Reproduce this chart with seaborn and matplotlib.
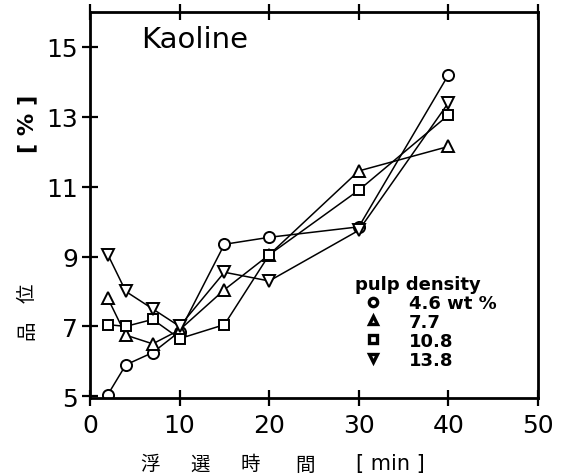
import matplotlib
matplotlib.use("Agg")
import matplotlib.pyplot as plt
import seaborn as sns
import pandas as pd

time_min = [2, 4, 7, 10, 15, 20, 30, 40]
grade_46 = [5.05, 5.9, 6.25, 6.85, 9.35, 9.55, 9.85, 14.2]
grade_77 = [7.8, 6.75, 6.5, 6.9, 8.05, 9.05, 11.45, 12.15]
grade_108 = [7.05, 7.0, 7.2, 6.65, 7.05, 9.05, 10.9, 13.05]
grade_138 = [9.05, 8.0, 7.5, 7.0, 8.55, 8.3, 9.75, 13.4]
series_labels = ["4.6 wt %", "7.7", "10.8", "13.8"]
series_markers = ["o", "^", "s", "v"]
x_ticks = [0, 10, 20, 30, 40, 50]
y_ticks = [5, 7, 9, 11, 13, 15]

sns.set_theme(style="white")
plt.rcParams['font.family'] = ['DejaVu Sans', 'Noto Sans CJK JP']
plt.rcParams['text.color'] = 'black'

fig = plt.figure(figsize=(5.62, 4.77), dpi=100)
ax = fig.add_axes([90/562, 1-399/477, 448/562, 386/477])

all_series = [grade_46, grade_77, grade_108, grade_138]
for vals, lab, mk in zip(all_series, series_labels, series_markers):
    df = pd.DataFrame({"t": time_min, "g": vals})
    sns.lineplot(data=df, x="t", y="g", ax=ax, color="black", linewidth=1.1,
                 marker=mk, markersize=8 if mk != "s" else 7,
                 markerfacecolor="white", markeredgecolor="black",
                 markeredgewidth=1.4, label=lab, legend=False)

lines = ax.get_lines()
leg = ax.legend(lines[:4], series_labels, title="pulp density",
                frameon=False, loc="upper left",
                bbox_to_anchor=(265/448, (399-276)/386),
                prop={"weight": "bold", "size": 13},
                title_fontproperties={"weight": "bold", "size": 13},
                markerscale=0.75, handlelength=2.0, handletextpad=1.0,
                labelspacing=0.05, borderpad=0.0, borderaxespad=0.0,
                labelcolor="black")
leg._legend_box.align = "left"
leg.get_title().set_color("black")
for h in leg.legend_handles:
    h.set_linestyle("none")
    h.set_markerfacecolor("white")
    h.set_markeredgewidth(2.4)

ax.set_xlim(0, 50)
ax.set_ylim(4.95, 16.0)
ax.set_xticks(x_ticks)
ax.set_yticks(y_ticks)
ax.set_xticklabels([str(v) for v in x_ticks], fontsize=18)
ax.set_yticklabels([str(v) for v in y_ticks], fontsize=18)
ax.tick_params(axis="both", direction="inout", length=11, width=1.6,
               color="black", labelcolor="black")
ax.tick_params(axis="x", pad=5, top=True, bottom=True)
ax.tick_params(axis="y", pad=3, left=True, right=False)
for sp in ax.spines.values():
    sp.set_visible(True)
    sp.set_color("black")
    sp.set_linewidth(2.0)
ax.set_xlabel("")
ax.set_ylabel("")
ax.grid(False)

ax.text(0.115, 0.93, "Kaoline", transform=ax.transAxes, fontsize=21,
        ha="left", va="center", color="black")

cjk = ["Noto Sans CJK JP", "DejaVu Sans"]
for ch, xc in zip(["浮", "選", "時", "間"], [150, 200, 250, 305]):
    fig.text(xc/562, 1-465/477, ch, ha="center", va="center",
             fontsize=14, family=cjk, color="black")
fig.text(390/562, 1-464/477, "[ min ]", ha="center", va="center",
         fontsize=15, color="black")
fig.text(27/562, 1-330/477, "品", rotation=90, ha="center", va="center",
         fontsize=14, family=cjk, color="black")
fig.text(27/562, 1-293/477, "位", rotation=90, ha="center", va="center",
         fontsize=14, family=cjk, color="black")
fig.text(27/562, 1-124/477, "[ % ]", rotation=90, ha="center", va="center",
         fontsize=16, weight="bold", color="black")

fig.savefig("out.png", dpi=100)
